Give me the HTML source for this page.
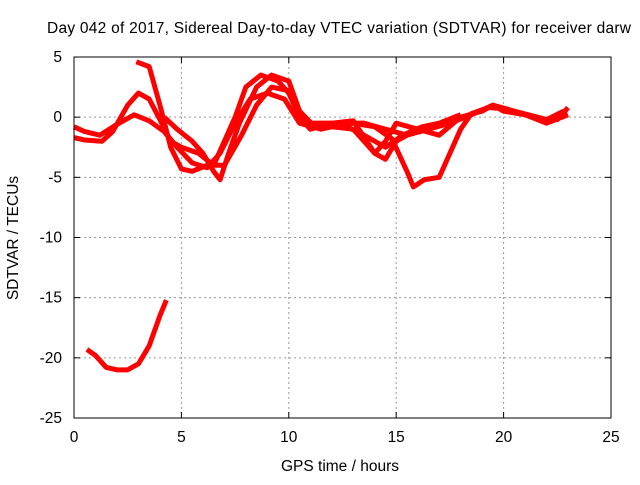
<!DOCTYPE html>
<html><head><meta charset="utf-8"><style>
body{margin:0;background:#fff}
svg text{font-family:"Liberation Sans",sans-serif;font-size:15.5px;fill:#000}
</style></head><body>
<svg id="chart" width="640" height="480">
<text x="339" y="33" text-anchor="middle" textLength="584">Day 042 of 2017, Sidereal Day-to-day VTEC variation (SDTVAR) for receiver darw</text>
<text x="340" y="471" text-anchor="middle">GPS time / hours</text>
<text transform="translate(18,238) rotate(-90)" text-anchor="middle">SDTVAR / TECUs</text>
<g id="grid"></g><g id="series"></g>
<rect x="74" y="57" width="537" height="361" fill="none" stroke="#000" stroke-width="1"/>
<g id="ticks"></g>
</svg>
<script>
const xTicks=[0,5,10,15,20,25];
const yTicks=[5,0,-5,-10,-15,-20,-25];
const seriesA=[[0,-0.8],[0.5,-1.2],[1.2,-1.5],[2,-0.6],[2.8,0.2],[3.5,-0.3],[4.2,-1.2],[4.8,-2.5],[5.5,-3.8],[6.2,-4.2],[6.8,-3],[7.5,-0.5],[8.2,1.5],[9,2],[9.8,1.5],[10.5,-0.5],[11.5,-1],[12.5,-0.6],[13.5,-1.5],[14.5,-2.5],[15.3,-1.5],[16.2,-0.8],[17,-0.5],[18,0.2]];
const seriesB=[[0,-1.7],[0.5,-1.9],[1.3,-2],[1.8,-1.2],[2.5,1],[3,2],[3.5,1.5],[4,-0.2],[4.5,-2],[5,-2.5],[5.8,-3],[6.5,-4],[7,-2],[7.5,0],[8,2.5],[8.7,3.5],[9.5,3],[10,2],[10.5,0],[11,-1],[12,-0.5],[13,-0.3],[14,-3],[14.5,-3.5],[15,-2],[15.5,-1.5]];
const seriesC=[[2.9,4.6],[3.5,4.2],[4,1],[4.5,-2.5],[5,-4.3],[5.5,-4.5],[6.2,-4],[7,-4],[7.8,-1.5],[8.5,1],[9.2,2.5],[10,2.2],[10.5,0.5],[11.2,-0.8],[12,-0.8],[13,-0.5],[14,-0.8],[14.8,-1.8],[15.5,-4.5],[15.8,-5.8],[16.3,-5.2],[17,-5],[17.5,-3],[18,-1],[18.5,0.3],[19.3,0.8],[20,0.7],[21,0.2],[22,-0.3],[22.5,-0.2],[23,0.8]];
const seriesD=[[4.2,0],[4.8,-1],[5.5,-2],[6,-3],[6.5,-4.5],[6.8,-5.2],[7.2,-3],[7.7,-0.5],[8.5,2.5],[9.2,3.5],[10,3],[10.5,0.5],[11,-0.5],[12,-0.5],[13.5,-0.5],[14.5,-1],[15.5,-1.5],[16.5,-1],[17.5,-0.5],[18.5,0.2],[19.5,1],[20,0.5],[21,0.2],[22,-0.5],[23,0.2]];
const seriesE=[[12,-0.8],[13,-1],[13.5,-2],[14,-3],[14.5,-2],[15,-0.5],[16,-1],[17,-1.5],[18,0],[19,0.5],[19.5,1],[20.5,0.5],[22,-0.2],[22.8,0.5]];
const seriesF=[[0.6,-19.3],[1,-19.8],[1.5,-20.8],[2,-21],[2.5,-21],[3,-20.5],[3.5,-19],[4,-16.5],[4.3,-15.2]];
const NS="http://www.w3.org/2000/svg";
const X=h=>74+h*(537/25), Y=v=>57+(5-v)*(361/30);
const grid=document.getElementById('grid'),ticks=document.getElementById('ticks'),ser=document.getElementById('series');
function mk(tag,attrs,parent){const e=document.createElementNS(NS,tag);for(const k in attrs)e.setAttribute(k,attrs[k]);parent.appendChild(e);return e;}
xTicks.forEach(t=>{const x=X(t);
 if(t>0&&t<25){const g=mk('line',{x1:x,x2:x,y1:57,y2:418,stroke:'#999','stroke-dasharray':'2,3'},grid);
 
 }
 mk('line',{x1:x,x2:x,y1:418,y2:412,stroke:'#000'},ticks);mk('line',{x1:x,x2:x,y1:57,y2:63,stroke:'#000'},ticks);
 const l=mk('text',{x:x,y:442,'text-anchor':'middle'},ticks);l.textContent=t;
 
 });
yTicks.forEach(t=>{const y=Y(t);
 if(t<5&&t>-25){const g=mk('line',{x1:74,x2:611,y1:y,y2:y,stroke:'#999','stroke-dasharray':'2,3'},grid);
 
 }
 mk('line',{x1:74,x2:80,y1:y,y2:y,stroke:'#000'},ticks);mk('line',{x1:611,x2:605,y1:y,y2:y,stroke:'#000'},ticks);
 const l=mk('text',{x:62,y:y+5,'text-anchor':'end'},ticks);l.textContent=t;
 
 });
[seriesA,seriesB,seriesC,seriesD,seriesE,seriesF].forEach((s,i)=>{
 const p=mk('polyline',{points:s.map(d=>X(d[0])+','+Y(d[1])).join(' '),fill:'none',stroke:'#f00','stroke-width':5,'stroke-linejoin':'round'},ser);
 
 });
</script>
</body></html>
